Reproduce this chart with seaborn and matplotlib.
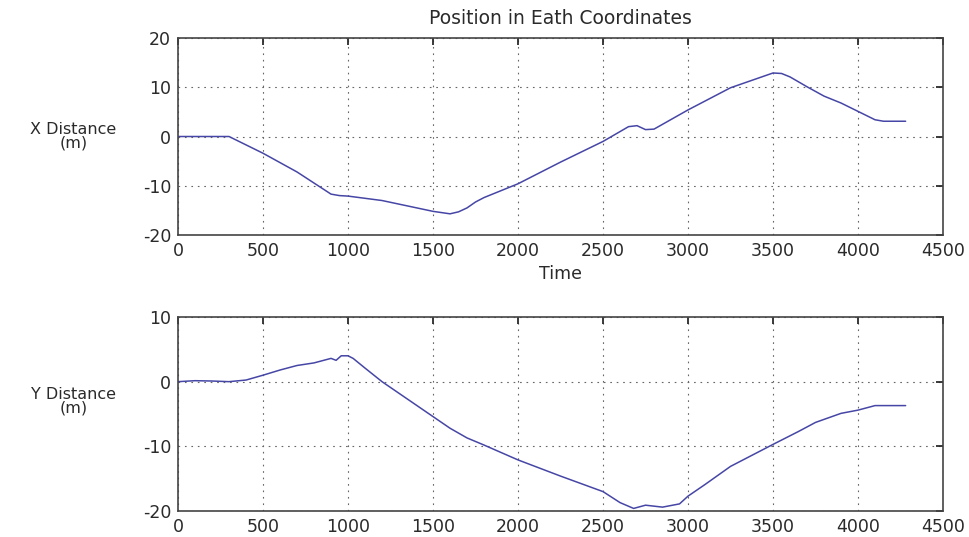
import matplotlib
matplotlib.use("Agg")
import matplotlib.pyplot as plt
import seaborn as sns
import pandas as pd

# ---- data ----
t_x = [0, 300, 500, 700, 900, 950, 1000, 1200, 1500, 1600, 1650, 1700, 1750, 1800,
       2000, 2250, 2500, 2650, 2700, 2750, 2800, 3000, 3250, 3500, 3550, 3600,
       3700, 3800, 3900, 4000, 4100, 4150, 4280]
x_dist = [0, 0, -3.4, -7.2, -11.7, -12.0, -12.1, -13.0, -15.2, -15.7, -15.3, -14.5, -13.3, -12.4,
          -9.6, -5.2, -1.0, 2.0, 2.2, 1.4, 1.5, 5.4, 9.9, 12.9, 12.8, 12.1,
          10.1, 8.2, 6.8, 5.1, 3.4, 3.1, 3.1]

t_y = [0, 100, 200, 300, 400, 500, 600, 700, 800, 900, 930, 960, 1000, 1030, 1100,
       1200, 1300, 1400, 1500, 1600, 1700, 1800, 2000, 2250, 2500, 2600, 2680, 2750,
       2850, 2950, 3000, 3100, 3250, 3500, 3650, 3750, 3900, 4000, 4100, 4280]
y_dist = [0, 0.15, 0.1, 0, 0.25, 1.0, 1.8, 2.5, 2.9, 3.6, 3.3, 4.0, 4.0, 3.6, 2.1,
          0, -1.8, -3.6, -5.4, -7.2, -8.7, -9.8, -12.1, -14.6, -17.0, -18.7, -19.6, -19.1,
          -19.4, -18.9, -17.7, -15.9, -13.1, -9.7, -7.7, -6.3, -4.9, -4.4, -3.7, -3.7]

x_ticks = [0, 500, 1000, 1500, 2000, 2500, 3000, 3500, 4000, 4500]
top_yticks = [-20, -10, 0, 10, 20]
bot_yticks = [-20, -10, 0, 10]

df_x = pd.DataFrame({"t": t_x, "v": x_dist})
df_y = pd.DataFrame({"t": t_y, "v": y_dist})

sns.set_style("white")
plt.rcParams['font.family'] = ['DejaVu Sans']
plt.rcParams['axes.unicode_minus'] = False

fig = plt.figure(figsize=(9.69, 5.37), dpi=100)
ax1 = fig.add_axes([0.1837, 0.5624, 0.7895, 0.3668])
ax2 = fig.add_axes([0.1837, 0.0484, 0.7895, 0.3613])

line_color = "#4646a6"
txt = "#2a2a2a"

for ax, df, yt, ylim, lab, laby in [
        (ax1, df_x, top_yticks, (-20, 20), "X Distance\n(m)", 0.50),
        (ax2, df_y, bot_yticks, (-20, 10), "Y Distance\n(m)", 0.567)]:
    sns.lineplot(data=df, x="t", y="v", ax=ax, color=line_color, linewidth=1.1)
    ax.set_xlim(0, 4500)
    ax.set_ylim(*ylim)
    ax.set_xticks(x_ticks)
    ax.set_yticks(yt)
    ax.grid(True, linestyle=(0, (1.5, 4.3)), color="#666666", linewidth=0.8)
    ax.tick_params(direction="in", length=5, width=1.3, top=True, right=True,
                   labelsize=12.5, pad=5, colors=txt)
    for s in ax.spines.values():
        s.set_visible(True)
        s.set_color("#444444")
        s.set_linewidth(1.2)
    ax.set_ylabel(lab, rotation=0, fontsize=11.5, ha="center", va="center",
                  linespacing=0.85, color=txt)
    ax.yaxis.set_label_coords(-0.137, laby)
    ax.set_xlabel("")

ax1.set_xlabel("Time", fontsize=12.5, labelpad=4, color=txt)
ax1.set_title("Position in Eath Coordinates", fontsize=13.5, pad=10, color=txt)

fig.savefig("out.png", dpi=100)
